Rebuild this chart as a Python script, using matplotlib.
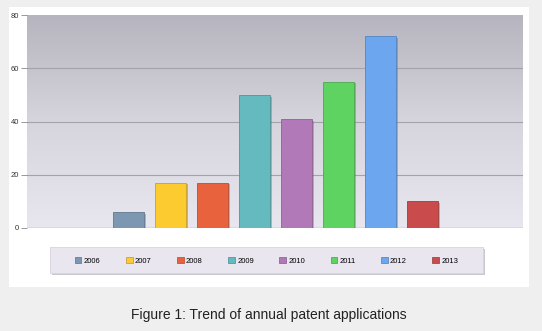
import matplotlib
matplotlib.use("Agg")
import matplotlib.pyplot as plt
import matplotlib.patheffects as pe
from matplotlib.patches import Rectangle, FancyBboxPatch
from matplotlib.colors import LinearSegmentedColormap, to_rgb
import numpy as np

years = ["2006", "2007", "2008", "2009", "2010", "2011", "2012", "2013"]
applications = [6, 17, 17, 50, 41, 55, 72, 10]
colors = ["#7b97b2", "#fbcb2f", "#e8623e", "#64babf", "#b279b9", "#5fd362", "#6ba6ef", "#c94b4b"]
yticks = [0, 20, 40, 60, 80]
caption = "Figure 1: Trend of annual patent applications"

W, H = 542, 331
fig = plt.figure(figsize=(W / 100, H / 100), dpi=100)
fig.patch.set_facecolor("#efefef")

# white card behind the chart
fig.patches.append(Rectangle((9 / W, 1 - 287 / H), 520 / W, 280 / H,
                             transform=fig.transFigure, facecolor="white",
                             edgecolor="none", zorder=0))

ax = fig.add_axes([27 / W, 1 - 228 / H, 496 / W, 213 / H])
ax.set_zorder(1)

x = np.arange(len(years))
ax.set_xlim(-2.42, 9.39)
ax.set_ylim(0, 80)

# vertical gradient for the plot background
grad = np.linspace(0, 1, 256).reshape(-1, 1)
bg = LinearSegmentedColormap.from_list("bg", ["#e8e6ee", "#d6d4dc", "#b6b5bf"])
ax.imshow(grad, aspect="auto", cmap=bg, origin="lower",
          extent=(-2.42, 9.39, 0, 80), zorder=0)

for yv in yticks[1:-1]:
    ax.axhline(yv, color="#a3a2ad", lw=0.8, zorder=1)
ax.axhline(0, color="#a9a9b0", lw=1.0, zorder=1)

bars = ax.bar(x, applications, width=0.74, color=colors, zorder=3,
              edgecolor="none")
for b in bars:
    b.set_path_effects([pe.SimplePatchShadow(offset=(1.2, -1.2), alpha=0.35,
                                             shadow_rgbFace="#555555"),
                        pe.Normal()])
    r, g, bl, _ = b.get_facecolor()
    b.set_edgecolor((r * 0.8, g * 0.8, bl * 0.8, 1))
    b.set_linewidth(0.6)

ax.set_yticks(yticks)
ax.set_yticklabels([str(v) for v in yticks], fontsize=5.5, color="#333333",
                   family="Liberation Sans")
ax.tick_params(axis="y", length=4, width=0.6, color="#888888", pad=1.5)
ax.set_xticks([])
for s in ax.spines.values():
    s.set_visible(False)

# legend strip underneath: frame with a soft shadow, entries spread inside
lx0, ly0, lw_, lh_ = 50 / W, 1 - 273 / H, 433 / W, 26 / H
fig.patches.append(Rectangle((lx0 + 1.5 / W, ly0 - 1.5 / H), lw_, lh_,
                             transform=fig.transFigure, facecolor="#c9c7cf",
                             edgecolor="none", zorder=1))
fig.patches.append(Rectangle((lx0, ly0), lw_, lh_, transform=fig.transFigure,
                             facecolor="#e9e6f0", edgecolor="#d8d4e0",
                             lw=0.6, zorder=2))

handles = [Rectangle((0, 0), 1, 1, facecolor=c,
                     edgecolor=tuple(v * 0.75 for v in to_rgb(c)), lw=0.5)
           for c in colors]
leg = fig.legend(handles, years, loc="center left", ncol=8, mode="expand",
                 bbox_to_anchor=(75 / W, 1 - 261 / H, 383 / W, 0),
                 prop={"family": "Liberation Sans", "size": 5.5},
                 handlelength=0.85, handleheight=0.85, handletextpad=0.3,
                 borderpad=0, frameon=False, borderaxespad=0)
leg.set_zorder(3)

fig.text(269 / W, 1 - 315 / H, caption, ha="center", va="center",
         fontsize=10, family="Liberation Sans", color="#222222")

fig.savefig("out.png", dpi=100, facecolor=fig.get_facecolor())
